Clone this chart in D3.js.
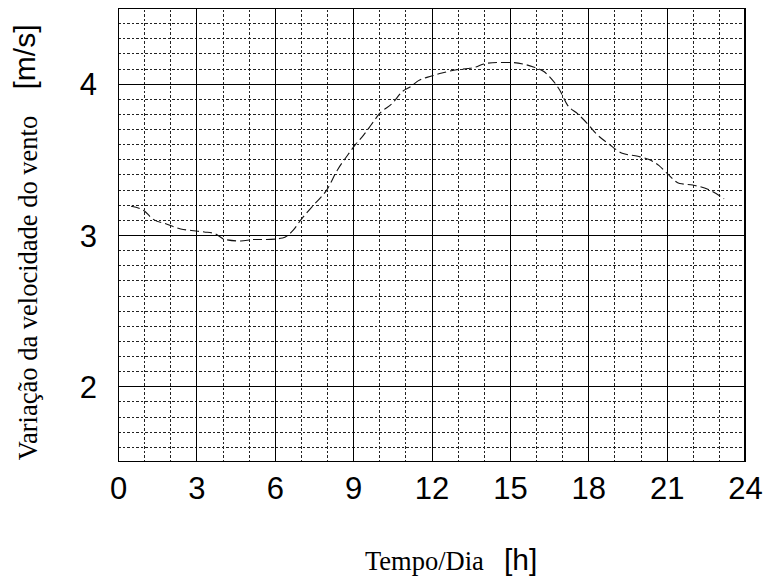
<!DOCTYPE html>
<html lang="pt-br">
<head>
    <meta charset="utf-8">
    <title>Variação da velocidade do vento</title>
    <script src="https://cdn.jsdelivr.net/npm/d3@7"></script>
    <style>
        body { margin: 0; background: #fff; }
        svg { display: block; }
        .grid line { shape-rendering: crispEdges; }
        .tick-label text { font-family: "Liberation Sans", Arial, sans-serif; font-size: 31px; fill: #000; }
        .serif { font-family: "Liberation Serif", "Times New Roman", serif; font-size: 26.5px; fill: #000; }
        .sans { font-family: "Liberation Sans", Arial, sans-serif; font-size: 30px; fill: #000; }
    </style>
</head>
<body>
<div id="chart"></div>
<script>
    // Dados
    var hours = [0.5, 1.0, 1.3, 1.9, 2.4, 2.8, 3.3, 3.7, 4.1, 4.7,
                 5.2, 5.7, 6.3, 6.7, 7.0, 7.5, 8.0, 8.4, 8.8, 9.1,
                 9.4, 9.7, 10.0, 10.5, 10.9, 11.2, 11.5, 12.0, 12.4, 12.9,
                 13.4, 13.7, 14.0, 14.5, 15.0, 15.5, 15.9, 16.3, 16.6, 16.9,
                 17.2, 17.6, 18.0, 18.3, 18.8, 19.3, 19.9, 20.3, 20.7, 21.0,
                 21.5, 22.0, 22.6, 23.2];
    var speed = [3.19, 3.16, 3.11, 3.07, 3.04, 3.03, 3.02, 3.01, 2.97, 2.96,
                 2.97, 2.97, 2.98, 3.03, 3.10, 3.20, 3.30, 3.43, 3.53, 3.60,
                 3.66, 3.73, 3.80, 3.87, 3.95, 3.98, 4.02, 4.05, 4.07, 4.09,
                 4.10, 4.11, 4.13, 4.14, 4.14, 4.13, 4.11, 4.08, 4.03, 3.96,
                 3.86, 3.80, 3.73, 3.67, 3.60, 3.54, 3.52, 3.50, 3.46, 3.41,
                 3.34, 3.33, 3.30, 3.24];
    var xTicks = [0, 3, 6, 9, 12, 15, 18, 21, 24];
    var yTicks = [2, 3, 4];
    var xDomain = [0, 24],
        yDomain = [1.5, 4.5];

    var width = 765,
        height = 578;
    // Área do gráfico (pixels)
    var plotLeft = 118, plotRight = 745, plotTop = 8, plotBottom = 462;

    var x = d3.scaleLinear().domain(xDomain).range([plotLeft, plotRight]);
    var y = d3.scaleLinear().domain(yDomain).range([plotBottom, plotTop]);

    var svg = d3.select('#chart').append('svg')
        .attr('width', width)
        .attr('height', height);

    // Grade pontilhada (cada hora, cada 0.1 m/s)
    var minorX = d3.range(1, 24).filter(function(h) { return h % 3 !== 0; });
    var minorY = d3.range(16, 45).map(function(v) { return v / 10; })
        .filter(function(v) { return Math.abs(v - Math.round(v)) > 1e-6; });

    function gridStyle(dashed) {
        return function(g) {
            g.attr('class', 'grid');
            g.select('.domain').remove();
            g.selectAll('line')
                .attr('stroke', dashed ? '#222' : '#000')
                .attr('stroke-dasharray', dashed ? '2.5,2' : null);
        };
    }

    svg.append('g')
        .attr('transform', 'translate(0,' + plotBottom + ')')
        .call(d3.axisBottom(x).tickValues(minorX).tickSize(-(plotBottom - plotTop)).tickFormat(''))
        .call(gridStyle(true));

    svg.append('g')
        .attr('transform', 'translate(' + plotLeft + ',0)')
        .call(d3.axisLeft(y).tickValues(minorY).tickSize(-(plotRight - plotLeft)).tickFormat(''))
        .call(gridStyle(true));

    // Grade principal
    svg.append('g')
        .attr('transform', 'translate(0,' + plotBottom + ')')
        .call(d3.axisBottom(x).tickValues(xTicks).tickSize(-(plotBottom - plotTop)).tickFormat(''))
        .call(gridStyle(false));

    svg.append('g')
        .attr('transform', 'translate(' + plotLeft + ',0)')
        .call(d3.axisLeft(y).tickValues(yTicks).tickSize(-(plotRight - plotLeft)).tickFormat(''))
        .call(gridStyle(false));

    svg.append('rect')
        .attr('x', plotLeft + 0.5)
        .attr('y', plotTop + 0.5)
        .attr('width', plotRight - plotLeft - 1)
        .attr('height', plotBottom - plotTop - 1)
        .attr('fill', 'none')
        .attr('stroke', '#000');

    // Rótulos dos eixos
    svg.append('g')
        .attr('class', 'tick-label')
        .attr('transform', 'translate(0,' + (plotBottom + 8) + ')')
        .call(d3.axisBottom(x).tickValues(xTicks).tickSize(0).tickPadding(0).tickFormat(d3.format('d')))
        .call(function(g) {
            g.select('.domain').remove();
            g.selectAll('text').attr('dy', '0.95em').attr('font-family', null).attr('font-size', null);
        });

    svg.append('g')
        .attr('class', 'tick-label')
        .attr('transform', 'translate(' + (plotLeft - 21) + ',0)')
        .call(d3.axisLeft(y).tickValues(yTicks).tickSize(0).tickPadding(0).tickFormat(d3.format('d')))
        .call(function(g) {
            g.select('.domain').remove();
            g.selectAll('text').attr('dy', '0.36em').attr('font-family', null).attr('font-size', null);
        });

    // Curva
    var line = d3.line()
        .x(function(d, i) { return x(hours[i]); })
        .y(function(d) { return y(d); })
        .curve(d3.curveMonotoneX);

    svg.append('path')
        .datum(speed)
        .attr('d', line)
        .attr('fill', 'none')
        .attr('stroke', '#111')
        .attr('stroke-width', 1.1)
        .attr('stroke-dasharray', '9,4');

    // Títulos
    svg.append('text')
        .attr('class', 'serif')
        .attr('transform', 'translate(37,288) rotate(-90)')
        .attr('text-anchor', 'middle')
        .text('Variação da velocidade do vento');

    svg.append('text')
        .attr('class', 'sans')
        .attr('transform', 'translate(35,57) rotate(-90)')
        .attr('text-anchor', 'middle')
        .text('[m/s]');

    svg.append('text')
        .attr('class', 'serif')
        .attr('x', 365)
        .attr('y', 570)
        .text('Tempo/Dia');

    svg.append('text')
        .attr('class', 'sans')
        .attr('x', 504)
        .attr('y', 570)
        .text('[h]');
</script>
</body>
</html>
